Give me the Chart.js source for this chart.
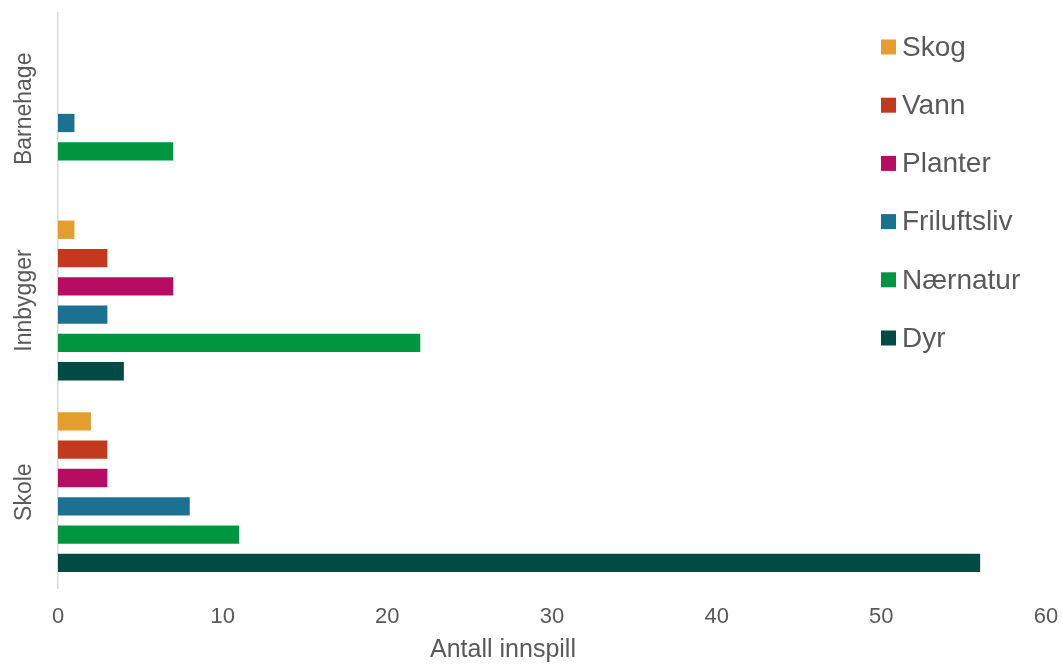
<!DOCTYPE html>
<html>
<head>
<meta charset="utf-8">
<script src="https://cdn.jsdelivr.net/npm/chart.js@4.4.1/dist/chart.umd.min.js"></script>
<style>
    html, body { margin: 0; padding: 0; background: #fff; overflow: hidden; }
    #wrap { position: relative; width: 1062px; height: 664px; }
    canvas { display: block; }
</style>
</head>
<body>
<div id="wrap"><canvas id="innspillChart"></canvas></div>
<script>
// data
const categories = ['Barnehage', 'Innbygger', 'Skole'];
const seriesNames = ['Skog', 'Vann', 'Planter', 'Friluftsliv', 'Nærnatur', 'Dyr'];
const skog = [0, 1, 2];
const vann = [0, 3, 3];
const planter = [0, 7, 3];
const friluftsliv = [1, 3, 8];
const naernatur = [7, 22, 11];
const dyr = [0, 4, 56];
const xTicks = [0, 10, 20, 30, 40, 50, 60];
const axisTitle = 'Antall innspill';

const colors = ['#E39E2D', '#C2391E', '#B70C61', '#1D7190', '#00953F', '#004C44'];
const seriesValues = [skog, vann, planter, friluftsliv, naernatur, dyr];
const FONT = '"Liberation Sans", Arial, sans-serif';
const TEXT = '#595959';

// kategorietiketter, rotert + aksetittel
const axisText = {
    id: 'axisText',
    afterDraw(chart) {
        const ctx = chart.ctx;
        const y = chart.scales.y;
        ctx.save();
        ctx.fillStyle = TEXT;
        ctx.textAlign = 'center';
        ctx.textBaseline = 'middle';
        ctx.font = '23px ' + FONT;
        categories.forEach((c, i) => {
            ctx.save();
            ctx.translate(25, y.getPixelForValue(i));
            ctx.rotate(-Math.PI / 2);
            ctx.fillText(c, 0, 0);
            ctx.restore();
        });
        ctx.font = '25px ' + FONT;
        ctx.fillText(axisTitle, 503, 650);
        ctx.restore();
    }
};

// legende til høyre
const sideLegend = {
    id: 'sideLegend',
    afterDraw(chart) {
        const ctx = chart.ctx;
        ctx.save();
        ctx.font = '28px ' + FONT;
        ctx.textBaseline = 'middle';
        chart.data.datasets.forEach((ds, i) => {
            const cy = 47 + i * 58.2;
            ctx.fillStyle = ds.backgroundColor;
            ctx.fillRect(881, cy - 7.5, 15, 15);
            ctx.fillStyle = TEXT;
            ctx.fillText(ds.label, 902, cy + 1);
        });
        ctx.restore();
    }
};

new Chart(document.getElementById('innspillChart'), {
    type: 'bar',
    data: {
        labels: categories,
        datasets: seriesNames.map((name, i) => ({
            label: name,
            data: seriesValues[i],
            backgroundColor: colors[i],
            borderWidth: 0,
            categoryPercentage: 0.886,
            barPercentage: 0.647
        }))
    },
    options: {
        indexAxis: 'y',
        responsive: true,
        maintainAspectRatio: false,
        animation: false,
        layout: { padding: { top: 13, right: 16, left: 0, bottom: 0 } },
        plugins: {
            legend: { display: false },
            tooltip: { enabled: false }
        },
        scales: {
            x: {
                min: 0,
                max: 60,
                afterBuildTicks: scale => { scale.ticks = xTicks.map(v => ({ value: v })); },
                afterFit: scale => {
                    scale.height = 76;
                    scale.paddingLeft = 0;
                    scale.paddingRight = 0;
                },
                grid: { display: false, drawTicks: false },
                border: { display: false },
                ticks: {
                    color: TEXT,
                    padding: 16,
                    maxRotation: 0,
                    font: { family: FONT, size: 22 }
                }
            },
            y: {
                afterFit: scale => { scale.width = 58; },
                grid: { display: false, drawTicks: false },
                border: { display: true, color: '#D9D9D9', width: 1.5 },
                ticks: { display: false }
            }
        }
    },
    plugins: [axisText, sideLegend]
});
</script>
</body>
</html>
